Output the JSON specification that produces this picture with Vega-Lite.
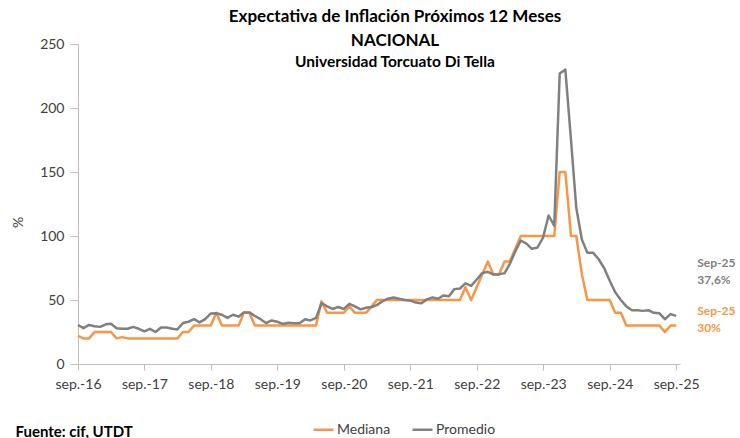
{
  "$schema": "https://vega.github.io/schema/vega-lite/v6.json",
  "width": 602,
  "height": 320,
  "autosize": {"type": "none"},
  "padding": {"left": 78, "top": 44, "right": 60, "bottom": 74},
  "background": "white",
  "title": {
    "text": ["Expectativa de Inflación Próximos 12 Meses", "NACIONAL"],
    "subtitle": "Universidad Torcuato Di Tella",
    "anchor": "middle",
    "frame": "group",
    "dx": 16,
    "offset": -34,
    "font": "Lato",
    "fontSize": 17,
    "fontWeight": "bold",
    "lineHeight": 24,
    "color": "#000000",
    "subtitleFont": "Lato",
    "subtitleFontSize": 15.5,
    "subtitleFontWeight": "bold",
    "subtitleColor": "#000000",
    "subtitlePadding": 5
  },
  "config": {
    "view": {"stroke": null},
    "font": "Lato"
  },
  "datasets": {
    "main": [
      {"d": "2016-09-01", "Mediana": 22, "Promedio": 30.5},
      {"d": "2016-10-01", "Mediana": 20, "Promedio": 28},
      {"d": "2016-11-01", "Mediana": 20, "Promedio": 30.5},
      {"d": "2016-12-01", "Mediana": 25, "Promedio": 29.5},
      {"d": "2017-01-01", "Mediana": 25, "Promedio": 29},
      {"d": "2017-02-01", "Mediana": 25, "Promedio": 31},
      {"d": "2017-03-01", "Mediana": 25, "Promedio": 31.5},
      {"d": "2017-04-01", "Mediana": 20, "Promedio": 28},
      {"d": "2017-05-01", "Mediana": 21, "Promedio": 27.5},
      {"d": "2017-06-01", "Mediana": 20, "Promedio": 27.5},
      {"d": "2017-07-01", "Mediana": 20, "Promedio": 29},
      {"d": "2017-08-01", "Mediana": 20, "Promedio": 27.5},
      {"d": "2017-09-01", "Mediana": 20, "Promedio": 25.5},
      {"d": "2017-10-01", "Mediana": 20, "Promedio": 27.5},
      {"d": "2017-11-01", "Mediana": 20, "Promedio": 25},
      {"d": "2017-12-01", "Mediana": 20, "Promedio": 28.5},
      {"d": "2018-01-01", "Mediana": 20, "Promedio": 28.5},
      {"d": "2018-02-01", "Mediana": 20, "Promedio": 27.5},
      {"d": "2018-03-01", "Mediana": 20, "Promedio": 27},
      {"d": "2018-04-01", "Mediana": 25, "Promedio": 32},
      {"d": "2018-05-01", "Mediana": 25, "Promedio": 33},
      {"d": "2018-06-01", "Mediana": 30, "Promedio": 35},
      {"d": "2018-07-01", "Mediana": 30, "Promedio": 32.5},
      {"d": "2018-08-01", "Mediana": 30, "Promedio": 35},
      {"d": "2018-09-01", "Mediana": 30, "Promedio": 39.5},
      {"d": "2018-10-01", "Mediana": 40, "Promedio": 39.6},
      {"d": "2018-11-01", "Mediana": 30, "Promedio": 38.5},
      {"d": "2018-12-01", "Mediana": 30, "Promedio": 36},
      {"d": "2019-01-01", "Mediana": 30, "Promedio": 38.5},
      {"d": "2019-02-01", "Mediana": 30, "Promedio": 37},
      {"d": "2019-03-01", "Mediana": 40, "Promedio": 40.3},
      {"d": "2019-04-01", "Mediana": 40, "Promedio": 40.3},
      {"d": "2019-05-01", "Mediana": 30, "Promedio": 37.5},
      {"d": "2019-06-01", "Mediana": 30, "Promedio": 35},
      {"d": "2019-07-01", "Mediana": 30, "Promedio": 32},
      {"d": "2019-08-01", "Mediana": 30, "Promedio": 34},
      {"d": "2019-09-01", "Mediana": 30, "Promedio": 33},
      {"d": "2019-10-01", "Mediana": 30, "Promedio": 31.3},
      {"d": "2019-11-01", "Mediana": 30, "Promedio": 32.3},
      {"d": "2019-12-01", "Mediana": 30, "Promedio": 31.8},
      {"d": "2020-01-01", "Mediana": 30, "Promedio": 31.8},
      {"d": "2020-02-01", "Mediana": 30, "Promedio": 35},
      {"d": "2020-03-01", "Mediana": 30, "Promedio": 34},
      {"d": "2020-04-01", "Mediana": 30, "Promedio": 36},
      {"d": "2020-05-01", "Mediana": 49, "Promedio": 47.5},
      {"d": "2020-06-01", "Mediana": 40, "Promedio": 45},
      {"d": "2020-07-01", "Mediana": 40, "Promedio": 43},
      {"d": "2020-08-01", "Mediana": 40, "Promedio": 44.5},
      {"d": "2020-09-01", "Mediana": 40, "Promedio": 43},
      {"d": "2020-10-01", "Mediana": 45, "Promedio": 47},
      {"d": "2020-11-01", "Mediana": 40, "Promedio": 45},
      {"d": "2020-12-01", "Mediana": 40, "Promedio": 42.7},
      {"d": "2021-01-01", "Mediana": 40, "Promedio": 44},
      {"d": "2021-02-01", "Mediana": 45, "Promedio": 44.5},
      {"d": "2021-03-01", "Mediana": 50, "Promedio": 46},
      {"d": "2021-04-01", "Mediana": 50, "Promedio": 49},
      {"d": "2021-05-01", "Mediana": 50, "Promedio": 51},
      {"d": "2021-06-01", "Mediana": 50, "Promedio": 52},
      {"d": "2021-07-01", "Mediana": 50, "Promedio": 51},
      {"d": "2021-08-01", "Mediana": 50, "Promedio": 50},
      {"d": "2021-09-01", "Mediana": 50, "Promedio": 49.5},
      {"d": "2021-10-01", "Mediana": 50, "Promedio": 48},
      {"d": "2021-11-01", "Mediana": 50, "Promedio": 47.5},
      {"d": "2021-12-01", "Mediana": 50, "Promedio": 50.5},
      {"d": "2022-01-01", "Mediana": 50, "Promedio": 52},
      {"d": "2022-02-01", "Mediana": 50, "Promedio": 51},
      {"d": "2022-03-01", "Mediana": 50, "Promedio": 53.5},
      {"d": "2022-04-01", "Mediana": 50, "Promedio": 53},
      {"d": "2022-05-01", "Mediana": 50, "Promedio": 58.5},
      {"d": "2022-06-01", "Mediana": 50, "Promedio": 59},
      {"d": "2022-07-01", "Mediana": 60, "Promedio": 63},
      {"d": "2022-08-01", "Mediana": 50, "Promedio": 61},
      {"d": "2022-09-01", "Mediana": 60, "Promedio": 66},
      {"d": "2022-10-01", "Mediana": 70, "Promedio": 71},
      {"d": "2022-11-01", "Mediana": 80, "Promedio": 72},
      {"d": "2022-12-01", "Mediana": 70, "Promedio": 70},
      {"d": "2023-01-01", "Mediana": 70, "Promedio": 70},
      {"d": "2023-02-01", "Mediana": 80, "Promedio": 71},
      {"d": "2023-03-01", "Mediana": 80, "Promedio": 78},
      {"d": "2023-04-01", "Mediana": 90, "Promedio": 88},
      {"d": "2023-05-01", "Mediana": 100, "Promedio": 96.5},
      {"d": "2023-06-01", "Mediana": 100, "Promedio": 94},
      {"d": "2023-07-01", "Mediana": 100, "Promedio": 90},
      {"d": "2023-08-01", "Mediana": 100, "Promedio": 91},
      {"d": "2023-09-01", "Mediana": 100, "Promedio": 99},
      {"d": "2023-10-01", "Mediana": 100, "Promedio": 116},
      {"d": "2023-11-01", "Mediana": 100, "Promedio": 108},
      {"d": "2023-12-01", "Mediana": 150, "Promedio": 227},
      {"d": "2024-01-01", "Mediana": 150, "Promedio": 230},
      {"d": "2024-02-01", "Mediana": 100, "Promedio": 175},
      {"d": "2024-03-01", "Mediana": 100, "Promedio": 122},
      {"d": "2024-04-01", "Mediana": 70, "Promedio": 97},
      {"d": "2024-05-01", "Mediana": 50, "Promedio": 87},
      {"d": "2024-06-01", "Mediana": 50, "Promedio": 87},
      {"d": "2024-07-01", "Mediana": 50, "Promedio": 82},
      {"d": "2024-08-01", "Mediana": 50, "Promedio": 75},
      {"d": "2024-09-01", "Mediana": 50, "Promedio": 65},
      {"d": "2024-10-01", "Mediana": 40, "Promedio": 56},
      {"d": "2024-11-01", "Mediana": 40, "Promedio": 50},
      {"d": "2024-12-01", "Mediana": 30, "Promedio": 45},
      {"d": "2025-01-01", "Mediana": 30, "Promedio": 42},
      {"d": "2025-02-01", "Mediana": 30, "Promedio": 42},
      {"d": "2025-03-01", "Mediana": 30, "Promedio": 41.5},
      {"d": "2025-04-01", "Mediana": 30, "Promedio": 42},
      {"d": "2025-05-01", "Mediana": 30, "Promedio": 40},
      {"d": "2025-06-01", "Mediana": 30, "Promedio": 39.6},
      {"d": "2025-07-01", "Mediana": 25, "Promedio": 35},
      {"d": "2025-08-01", "Mediana": 30, "Promedio": 39},
      {"d": "2025-09-01", "Mediana": 30, "Promedio": 37.6}
    ]
  },
  "layer": [
    {
      "data": {"name": "main"},
      "transform": [{"fold": ["Mediana", "Promedio"], "as": ["serie", "valor"]}],
      "mark": {"type": "line", "strokeWidth": 2.5, "strokeJoin": "round"},
      "encoding": {
        "x": {
          "field": "d",
          "type": "temporal",
          "scale": {
            "type": "utc",
            "domain": [
              {"year": 2016, "month": 9, "date": 1, "utc": true},
              {"year": 2025, "month": 9, "date": 22, "utc": true}
            ]
          },
          "axis": {
            "values": [
              {"year": 2016, "month": 9, "date": 1, "utc": true},
              {"year": 2017, "month": 9, "date": 1, "utc": true},
              {"year": 2018, "month": 9, "date": 1, "utc": true},
              {"year": 2019, "month": 9, "date": 1, "utc": true},
              {"year": 2020, "month": 9, "date": 1, "utc": true},
              {"year": 2021, "month": 9, "date": 1, "utc": true},
              {"year": 2022, "month": 9, "date": 1, "utc": true},
              {"year": 2023, "month": 9, "date": 1, "utc": true},
              {"year": 2024, "month": 9, "date": 1, "utc": true},
              {"year": 2025, "month": 9, "date": 1, "utc": true}
            ],
            "labelExpr": "'sep.-' + utcFormat(datum.value, '%y')",
            "grid": false,
            "tickSize": 6,
            "tickColor": "#BFBFBF",
            "domainColor": "#BFBFBF",
            "labelFont": "Lato",
            "labelFontSize": 14,
            "labelColor": "#404040",
            "labelPadding": 7,
            "labelFlush": false,
            "labelOverlap": false,
            "title": "Fuente: cif, UTDT",
            "titleAnchor": "start",
            "titleAlign": "left",
            "titleX": -63,
            "titleY": 72,
            "titleBaseline": "alphabetic",
            "titleFont": "Lato",
            "titleFontSize": 15,
            "titleFontWeight": "bold",
            "titleColor": "#000000"
          }
        },
        "y": {
          "field": "valor",
          "type": "quantitative",
          "scale": {"domain": [0, 250], "nice": false},
          "axis": {
            "values": [0, 50, 100, 150, 200, 250],
            "grid": false,
            "tickSize": 8,
            "tickColor": "#BFBFBF",
            "domainColor": "#BFBFBF",
            "labelFont": "Lato",
            "labelFontSize": 14,
            "labelColor": "#404040",
            "labelPadding": 6,
            "title": "%",
            "titleFont": "Lato",
            "titleFontSize": 14,
            "titleFontWeight": "normal",
            "titleColor": "#404040",
            "titleX": -60,
            "titleY": 178,
            "titleAlign": "center",
            "titleBaseline": "middle",
            "titleAngle": -90
          }
        },
        "color": {
          "field": "serie",
          "type": "nominal",
          "scale": {"domain": ["Mediana", "Promedio"], "range": ["#F79646", "#808080"]},
          "legend": {
            "orient": "none",
            "legendX": 234,
            "legendY": 374,
            "direction": "horizontal",
            "title": null,
            "symbolType": "stroke",
            "symbolSize": 400,
            "symbolStrokeWidth": 2.5,
            "labelFont": "Lato",
            "labelFontSize": 14,
            "labelColor": "#404040",
            "labelOffset": 2,
            "columnPadding": 16,
            "padding": 0
          }
        }
      }
    },
    {
      "data": {"values": [{"d": "2025-09-01", "valor": 37.6, "t": "Sep-25\n37,6%"}]},
      "mark": {"type": "text", "align": "left", "baseline": "top", "dx": 21, "dy": -58, "lineBreak": "\n", "lineHeight": 17, "font": "Lato", "fontSize": 12, "fontWeight": "bold", "color": "#7F7F7F"},
      "encoding": {
        "x": {"field": "d", "type": "temporal"},
        "y": {"field": "valor", "type": "quantitative"},
        "text": {"field": "t"}
      }
    },
    {
      "data": {"values": [{"d": "2025-09-01", "valor": 30, "t": "Sep-25\n30%"}]},
      "mark": {"type": "text", "align": "left", "baseline": "top", "dx": 21, "dy": -20, "lineBreak": "\n", "lineHeight": 17, "font": "Lato", "fontSize": 12, "fontWeight": "bold", "color": "#F79646"},
      "encoding": {
        "x": {"field": "d", "type": "temporal"},
        "y": {"field": "valor", "type": "quantitative"},
        "text": {"field": "t"}
      }
    }
  ]
}
